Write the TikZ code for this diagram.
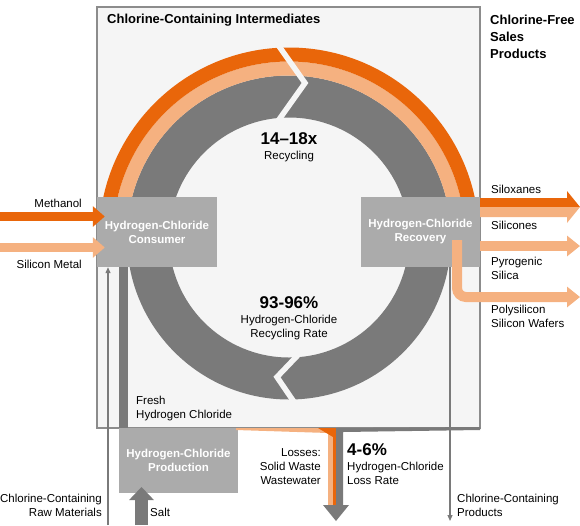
\documentclass[tikz,border=0pt]{standalone}
\usepackage{fontspec}
\setmainfont{Liberation Sans}
\usetikzlibrary{arrows.meta}

\definecolor{darkor}{RGB}{233,102,10}
\definecolor{lightor}{RGB}{245,177,128}
\definecolor{ringgrey}{RGB}{122,122,122}
\definecolor{boxgrey}{RGB}{171,171,171}
\definecolor{bgcol}{RGB}{245,245,245}
\definecolor{framegrey}{RGB}{140,140,140}

\begin{document}
\begin{tikzpicture}[x=1pt,y=-1pt,
    hcl/.style={fill=boxgrey, text=white, font=\bfseries\fontsize{11.5}{14}\selectfont, align=center, inner sep=0pt},
    lbl/.style={font=\fontsize{11.5}{14}\selectfont, inner sep=0pt},
    big/.style={font=\bfseries\fontsize{17}{20}\selectfont, inner sep=0pt},
    hdr/.style={font=\bfseries\fontsize{13}{17}\selectfont, inner sep=0pt},
    gap/.style={bgcol, line width=5.5pt, line join=miter},
    thinflow/.style={ringgrey, line width=1.2pt, -{Triangle[length=6pt,width=5pt]}},
    >=latex]
  \useasboundingbox (0,0) rectangle (580,525);
  % frame of the intermediates
  \filldraw[fill=bgcol, draw=framegrey, line width=1.5pt] (97,7) rectangle (480,428);
  % recycling ring
  \coordinate (c) at (289,237.5);
  \fill[ringgrey, even odd rule] (c) circle[radius=162] (c) circle[radius=120];
  \fill[lightor] (127,237.5) arc[start angle=180, end angle=360, radius=162]
    -- (465,237.5) arc[start angle=0, end angle=-180, radius=176] -- cycle;
  \fill[darkor] (113,237.5) arc[start angle=180, end angle=360, radius=176]
    -- (479,237.5) arc[start angle=0, end angle=-180, radius=190] -- cycle;
  \draw[gap] (276,42) -- (305,83) -- (278,121);
  \draw[gap] (299,354) -- (277,377) -- (294,402);
  % fresh hydrogen chloride
  \fill[ringgrey] (119,267) rectangle (128,428);
  % boxes
  \node[hcl, minimum width=120pt, minimum height=70pt] (cons) at (157,232) {Hydrogen-Chloride\\Consumer};
  \node[hcl, minimum width=119pt, minimum height=70pt] (rec) at (420.5,232) {Hydrogen-Chloride\\Recovery};
  \node[hcl, minimum width=119pt, minimum height=65pt] (prod) at (178.5,460.5) {Hydrogen-Chloride\\Production};
  % inputs
  \coordinate (methin) at (0,216.5);
  \coordinate (siin) at (0,247.5);
  \draw[darkor, line width=9.5pt, -{Triangle[length=12pt,width=20pt]}] (methin) -- ([xshift=8pt]cons.west |- methin);
  \draw[lightor, line width=9.5pt, -{Triangle[length=12pt,width=20pt]}] (siin) -- ([xshift=8pt]cons.west |- siin);
  % outputs
  \coordinate (pyroend) at (580,246);
  \coordinate (polyend) at (580,297);
  \fill[darkor] (480,198) -- (567,198) -- (567,191) -- (580,207) -- (480,207) -- cycle;
  \fill[lightor] (480,207) -- (580,207) -- (567,223) -- (567,217) -- (480,217) -- cycle;
  \draw[lightor, line width=10pt, -{Triangle[length=13pt,width=20pt]}] (rec.east |- pyroend) -- (pyroend);
  \draw[lightor, line width=10pt, rounded corners=9pt, -{Triangle[length=13pt,width=20pt]}] (457,240) |- (polyend);
  % chlorine containing streams
  \coordinate (rawin) at (108,525);
  \coordinate (prodout) at (450,521);
  \draw[thinflow] (rawin) -- (rawin |- cons.south);
  \draw[thinflow] (rec.south -| prodout) -- (prodout);
  \coordinate (saltin) at (141.5,525);
  \draw[ringgrey, line width=13pt, -{Triangle[length=13pt,width=24pt]}] (saltin) -- (141.5,487);
  % losses
  \fill[lightor] (236,428) -- (333,428) -- (333,505) -- (328,505) -- (328,433) -- (236,430) -- cycle;
  \fill[darkor] (318,428) -- (336,428) -- (336,505) -- (333,505) -- (333,437) -- cycle;
  \fill[ringgrey] (336,428) -- (480,427) -- (480,430) -- (343,432) -- (343,505) -- (336,505) -- cycle;
  \fill[ringgrey] (323,505) -- (349,505) -- (336,521) -- cycle;
  % texts
  \node[hdr, anchor=west] (title) at (107,20) {Chlorine-Containing Intermediates};
  \node[hdr, anchor=west, align=left] (sales) at (490,37) {Chlorine-Free\\Sales\\Products};
  \node[big] (cycles) at (289,139) {14–18x};
  \node[lbl] (cyclbl) at (289,157) {Recycling};
  \node[big] (rate) at (289,303) {93-96\%};
  \node[lbl, align=center] (ratelbl) at (289,327.5) {Hydrogen-Chloride\\Recycling Rate};
  \node[lbl, anchor=east] (meth) at (82,203) {Methanol};
  \node[lbl, anchor=east] (si) at (82,264) {Silicon Metal};
  \node[lbl, anchor=west] (silox) at (491,189) {Siloxanes};
  \node[lbl, anchor=west] (silic) at (491,225) {Silicones};
  \node[lbl, anchor=west, align=left] (pyro) at (491,268) {Pyrogenic\\Silica};
  \node[lbl, anchor=west, align=left] (poly) at (491,316) {Polysilicon\\Silicon Wafers};
  \node[lbl, anchor=west, align=left] (fresh) at (136,408.5) {Fresh\\Hydrogen Chloride};
  \node[lbl, anchor=east, align=right] (loss) at (321,467) {Losses:\\Solid Waste\\Wastewater};
  \node[big, anchor=west] (lossrate) at (347,450) {4-6\%};
  \node[lbl, anchor=west, align=left] (losslbl) at (347,473.5) {Hydrogen-Chloride\\Loss Rate};
  \node[lbl, anchor=east, align=right] (raw) at (102,505) {Chlorine-Containing\\Raw Materials};
  \node[lbl, anchor=west] (salt) at (150,512) {Salt};
  \node[lbl, anchor=west, align=left] (prods) at (457,505) {Chlorine-Containing\\Products};
\end{tikzpicture}
\end{document}
